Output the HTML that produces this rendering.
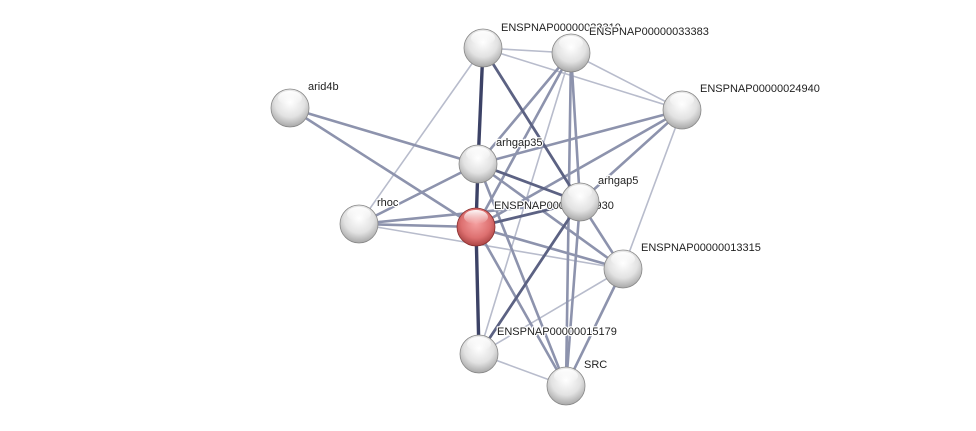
<!DOCTYPE html>
<html><head><meta charset="utf-8"><style>
html,body{margin:0;padding:0;background:#fff;}
svg{display:block;}
text{font-family:"Liberation Sans",sans-serif;font-size:11px;fill:#222;paint-order:stroke;stroke:#fff;stroke-width:2.5px;stroke-linejoin:round;}
</style></head><body>
<svg width="976" height="431" viewBox="0 0 976 431" xmlns="http://www.w3.org/2000/svg">
<defs>
<radialGradient id="g" cx="50%" cy="35%" r="65%">
<stop offset="0" stop-color="#ffffff"/><stop offset="0.6" stop-color="#e2e2e2"/><stop offset="1" stop-color="#a8a8a8"/>
</radialGradient>
<radialGradient id="r" cx="50%" cy="40%" r="65%">
<stop offset="0" stop-color="#f5a0a0"/><stop offset="0.6" stop-color="#dd7070"/><stop offset="1" stop-color="#a03a3a"/>
</radialGradient>
<linearGradient id="hl" x1="0" y1="0" x2="0" y2="1">
<stop offset="0" stop-color="#fff" stop-opacity="0.95"/><stop offset="1" stop-color="#fff" stop-opacity="0"/>
</linearGradient>
</defs>
<g stroke-linecap="round">
<g stroke="#b8bccc" stroke-width="1.6">
<line x1="483" y1="48" x2="571" y2="53"/>
<line x1="483" y1="48" x2="682" y2="110"/>
<line x1="483" y1="48" x2="359" y2="224"/>
<line x1="571" y1="53" x2="682" y2="110"/>
<line x1="682" y1="110" x2="623" y2="269"/>
<line x1="359" y1="224" x2="623" y2="269"/>
<line x1="479" y1="354" x2="566" y2="386"/>
<line x1="571" y1="53" x2="479" y2="354"/>
<line x1="623" y1="269" x2="479" y2="354"/>
</g>
<g stroke="#8d93ad" stroke-width="2.6">
<line x1="290" y1="108" x2="478" y2="164"/>
<line x1="290" y1="108" x2="476" y2="227"/>
<line x1="359" y1="224" x2="478" y2="164"/>
<line x1="359" y1="224" x2="476" y2="227"/>
<line x1="359" y1="224" x2="580" y2="202"/>
<line x1="571" y1="53" x2="478" y2="164"/>
<line x1="571" y1="53" x2="476" y2="227"/>
<line x1="571" y1="53" x2="580" y2="202"/>
<line x1="571" y1="53" x2="566" y2="386"/>
<line x1="682" y1="110" x2="478" y2="164"/>
<line x1="682" y1="110" x2="476" y2="227"/>
<line x1="682" y1="110" x2="580" y2="202"/>
<line x1="478" y1="164" x2="623" y2="269"/>
<line x1="478" y1="164" x2="566" y2="386"/>
<line x1="476" y1="227" x2="623" y2="269"/>
<line x1="476" y1="227" x2="566" y2="386"/>
<line x1="580" y1="202" x2="566" y2="386"/>
<line x1="580" y1="202" x2="623" y2="269"/>
<line x1="623" y1="269" x2="566" y2="386"/>
</g>
<g stroke="#5c6283" stroke-width="2.8">
<line x1="483" y1="48" x2="580" y2="202"/>
<line x1="478" y1="164" x2="580" y2="202"/>
<line x1="476" y1="227" x2="580" y2="202"/>
<line x1="580" y1="202" x2="479" y2="354"/>
</g>
<g stroke="#3c4266" stroke-width="3.4">
<line x1="483" y1="48" x2="478" y2="164"/>
<line x1="478" y1="164" x2="476" y2="227"/>
<line x1="476" y1="227" x2="479" y2="354"/>
</g>
</g>
<text x="501" y="31">ENSPNAP00000033310</text>
<text x="589" y="35">ENSPNAP00000033383</text>
<text x="308" y="90">arid4b</text>
<text x="700" y="92">ENSPNAP00000024940</text>
<text x="496" y="146">arhgap35</text>
<text x="377" y="206">rhoc</text>
<text x="494" y="209">ENSPNAP00000016930</text>
<text x="598" y="184">arhgap5</text>
<text x="641" y="251">ENSPNAP00000013315</text>
<text x="497" y="335">ENSPNAP00000015179</text>
<text x="584" y="368">SRC</text>
<g stroke="#888" stroke-width="0.8">
<circle cx="483" cy="48" r="19" fill="url(#g)"/>
<circle cx="571" cy="53" r="19" fill="url(#g)"/>
<circle cx="290" cy="108" r="19" fill="url(#g)"/>
<circle cx="682" cy="110" r="19" fill="url(#g)"/>
<circle cx="478" cy="164" r="19" fill="url(#g)"/>
<circle cx="359" cy="224" r="19" fill="url(#g)"/>
<circle cx="476" cy="227" r="19" fill="url(#r)" stroke="#8a3030"/>
<circle cx="580" cy="202" r="19" fill="url(#g)"/>
<circle cx="623" cy="269" r="19" fill="url(#g)"/>
<circle cx="479" cy="354" r="19" fill="url(#g)"/>
<circle cx="566" cy="386" r="19" fill="url(#g)"/>
</g>
<g fill="url(#hl)">
<ellipse cx="483" cy="38" rx="12" ry="7"/><ellipse cx="571" cy="43" rx="12" ry="7"/>
<ellipse cx="290" cy="98" rx="12" ry="7"/><ellipse cx="682" cy="100" rx="12" ry="7"/>
<ellipse cx="478" cy="154" rx="12" ry="7"/><ellipse cx="359" cy="214" rx="12" ry="7"/>
<ellipse cx="476" cy="217" rx="12" ry="7"/><ellipse cx="580" cy="192" rx="12" ry="7"/>
<ellipse cx="623" cy="259" rx="12" ry="7"/><ellipse cx="479" cy="344" rx="12" ry="7"/>
<ellipse cx="566" cy="376" rx="12" ry="7"/>
</g>
</svg>
</body></html>
